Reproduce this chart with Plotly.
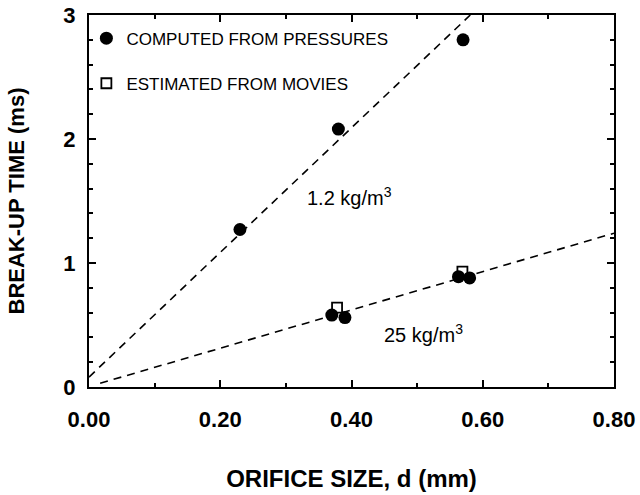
import plotly.graph_objects as go

# Data
comp_x = [0.23, 0.38, 0.57, 0.37, 0.39, 0.563, 0.58]
comp_y = [1.27, 2.08, 2.80, 0.58, 0.56, 0.89, 0.88]
movie_x = [0.378, 0.569]
movie_y = [0.64, 0.93]
fit1_x = [0.0, 0.581]
fit1_y = [0.08, 3.0]
fit2_x = [0.017, 0.8]
fit2_y = [0.03, 1.24]
label_text = ["1.2 kg/m<sup>3</sup>", "25 kg/m<sup>3</sup>"]
label_x = [0.397, 0.51]
label_y = [1.54, 0.43]
x_ticks = [0.0, 0.2, 0.4, 0.6, 0.8]
x_ticktext = ["0.00", "0.20", "0.40", "0.60", "0.80"]
y_ticks = [0, 1, 2, 3]
x_range = [0, 0.8]
y_range = [0, 3]

FONT = "Liberation Sans, Arial, sans-serif"

fig = go.Figure()
for fx, fy in [(fit1_x, fit1_y), (fit2_x, fit2_y)]:
    fig.add_trace(go.Scatter(x=fx, y=fy, mode="lines", showlegend=False,
                             line=dict(color="black", width=1.6, dash="8px,6px")))
fig.add_trace(go.Scatter(x=movie_x, y=movie_y, mode="markers", name="ESTIMATED FROM MOVIES",
                         legendgroup="b", legendrank=2,
                         marker=dict(symbol="square", size=10, color="white",
                                     line=dict(color="black", width=1.8))))
fig.add_trace(go.Scatter(x=comp_x, y=comp_y, mode="markers", name="COMPUTED FROM PRESSURES",
                         legendgroup="a", legendrank=1,
                         marker=dict(symbol="circle", size=13, color="black")))
# empty trace so the label-only axes get drawn
fig.add_trace(go.Scatter(x=[], y=[], xaxis="x2", yaxis="y2", mode="markers",
                         showlegend=False, hoverinfo="skip"))

for t, lx, ly in zip(label_text, label_x, label_y):
    fig.add_annotation(x=lx, y=ly, text=t, showarrow=False,
                       font=dict(family=FONT, size=20, color="black"))

tickfont = dict(family=FONT, size=22, color="black", weight="bold")
# main axes: box, inside ticks, titles
axis_common = dict(showline=True, linecolor="black", linewidth=2, mirror="allticks",
                   ticks="inside", tickcolor="black", tickwidth=1.5, ticklen=7,
                   showgrid=False, zeroline=False, automargin=False, showticklabels=False)
# label axes: carry only the tick labels, set off from the box
label_common = dict(showline=False, showgrid=False, zeroline=False, automargin=False,
                    ticks="outside", tickcolor="rgba(0,0,0,0)", tickfont=tickfont,
                    ticklabeloverflow="allow")

fig.update_layout(
    xaxis=dict(range=x_range, tickvals=x_ticks,
               minor=dict(dtick=0.1, ticks="inside", ticklen=4, tickcolor="black", tickwidth=1.5),
               title=dict(text="ORIFICE SIZE, d (mm)", standoff=82,
                          font=dict(family=FONT, size=24, color="black", weight="bold")),
               **axis_common),
    yaxis=dict(range=y_range, tickvals=y_ticks,
               minor=dict(dtick=0.2, ticks="inside", ticklen=4, tickcolor="black", tickwidth=1.5),
               title=dict(text="BREAK-UP TIME (ms)", standoff=56,
                          font=dict(family=FONT, size=22, color="black", weight="bold")),
               **axis_common),
    xaxis2=dict(overlaying="x", anchor="y2", side="bottom", range=x_range,
                tickvals=x_ticks, ticktext=x_ticktext, ticklen=13, **label_common),
    yaxis2=dict(overlaying="y", anchor="x2", side="left", range=y_range,
                tickvals=y_ticks, ticklen=8, **label_common),
)

fig.update_layout(
    width=640, height=495,
    margin=dict(l=89, r=26, t=15, b=108),
    plot_bgcolor="white", paper_bgcolor="white",
    showlegend=True,
    legend=dict(x=-0.005, y=0.985, xanchor="left", yanchor="top",
                bgcolor="rgba(0,0,0,0)", traceorder="grouped", tracegroupgap=20,
                font=dict(family=FONT, size=17, color="black"),
                itemwidth=30),
)

# remove the page's default 8px body margin so the figure sits at the window's corner
fig.write_html("out.html", config={"displayModeBar": False},
               post_script="document.body.style.margin='0';")
